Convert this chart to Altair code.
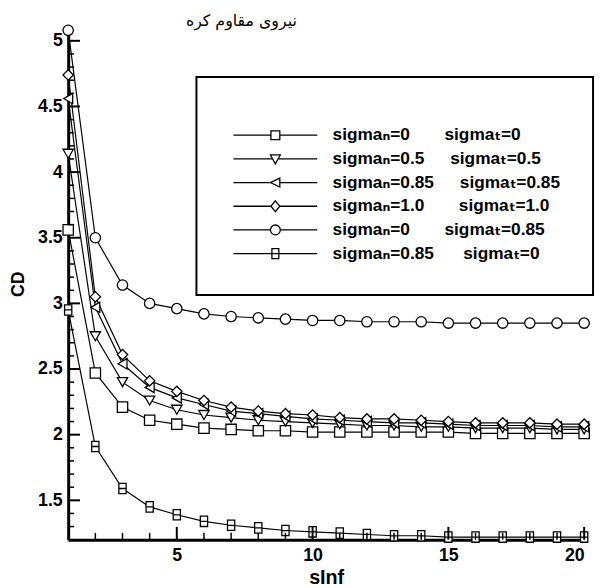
import altair as alt
import pandas as pd

# ---------------- data ----------------
x_values = list(range(1, 21))

EM, EN, TH = "\u2003", "\u2002", "\u2009"
series_labels = [
    "sigmaₙ=0" + EM + EM + "sigmaₜ=0",
    "sigmaₙ=0.5" + EM + EN + "sigmaₜ=0.5",
    "sigmaₙ=0.85" + EM + EN + "sigmaₜ=0.85",
    "sigmaₙ=1.0" + EM + EM + "sigmaₜ=1.0",
    "sigmaₙ=0" + EM + EM + "sigmaₜ=0.85",
    "sigmaₙ=0.85" + EM + EN + TH + "sigmaₜ=0",
]

cd_s00 = [3.56, 2.47, 2.21, 2.11, 2.08, 2.05, 2.04, 2.03, 2.03, 2.02,
          2.02, 2.02, 2.02, 2.02, 2.02, 2.01, 2.01, 2.01, 2.01, 2.01]
cd_s05 = [4.14, 2.75, 2.40, 2.26, 2.19, 2.15, 2.13, 2.11, 2.10, 2.09,
          2.08, 2.07, 2.07, 2.06, 2.06, 2.05, 2.05, 2.05, 2.04, 2.04]
cd_s085 = [4.56, 2.97, 2.54, 2.36, 2.28, 2.23, 2.18, 2.16, 2.14, 2.12,
           2.11, 2.10, 2.09, 2.09, 2.08, 2.07, 2.07, 2.07, 2.06, 2.06]
cd_s10 = [4.74, 3.05, 2.61, 2.41, 2.33, 2.26, 2.21, 2.18, 2.16, 2.15,
          2.13, 2.12, 2.12, 2.11, 2.10, 2.09, 2.09, 2.09, 2.08, 2.08]
cd_n0_t085 = [5.08, 3.50, 3.14, 3.00, 2.96, 2.92, 2.90, 2.89, 2.88, 2.87,
              2.87, 2.86, 2.86, 2.86, 2.85, 2.85, 2.85, 2.85, 2.85, 2.85]
cd_n085_t0 = [2.95, 1.91, 1.59, 1.45, 1.39, 1.34, 1.31, 1.29, 1.27, 1.26,
              1.25, 1.24, 1.23, 1.23, 1.22, 1.22, 1.22, 1.22, 1.22, 1.22]

series_values = [cd_s00, cd_s05, cd_s085, cd_s10, cd_n0_t085, cd_n085_t0]

x_tick_labels = [5, 10, 15, 20]
x_minor_ticks = [i for i in range(2, 20) if i % 5 != 0]
y_tick_labels = [1.5, 2.0, 2.5, 3.0, 3.5, 4.0, 4.5, 5.0]
y_minor_ticks = [round(1.2 + 0.1 * i, 1) for i in range(40)
                 if round((1.2 + 0.1 * i) * 10) % 5 != 0 and 1.2 + 0.1 * i <= 5.1]

title_text = "نیروی مقاوم کره"

# ---------------- tables ----------------
rows = []
for lab, vals in zip(series_labels, series_values):
    for xv, cv in zip(x_values, vals):
        rows.append({"x": xv, "cd": cv, "series": lab})
df = pd.DataFrame(rows)

# ---------------- styling ----------------
FONT = "Liberation Sans, Arial, DejaVu Sans"
W, H = 523, 519

xscale = alt.Scale(domain=[1, 20], nice=False, zero=False)
yscale = alt.Scale(domain=[1.2, 5.1], nice=False, zero=False)

x_enc = alt.X("x:Q", scale=xscale,
              axis=alt.Axis(values=x_tick_labels, title="sInf", titleFontSize=20,
                            titleY=44, titleBaseline="alphabetic", labelPadding=7))
y_enc = alt.Y("cd:Q", scale=yscale,
              axis=alt.Axis(values=y_tick_labels, format="~g", title="CD",
                            titleFontSize=18, titleX=-41, labelPadding=6))

plot_shapes = ["square", "triangle-down", "triangle-left", "diamond", "circle",
               "M-0.7,-1H0.7V1H-0.7ZM-0.7,0H0.7"]

L = "4.25"
legend_shapes = [
    f"M-{L},0H-0.45M0.45,0H{L}M-0.45,-0.45H0.45V0.45H-0.45Z",
    f"M-{L},0H-0.28M0.28,0H{L}M-0.5,-0.4L0.5,-0.4L0,0.5Z",
    f"M-{L},0H-0.5M0.45,0H{L}M-0.5,0L0.45,-0.45L0.45,0.45Z",
    f"M-{L},0H-0.45M0.45,0H{L}M0,-0.55L0.45,0L0,0.55L-0.45,0Z",
    f"M-{L},0H-0.5M0.5,0H{L}M-0.5,0A0.5,0.5 0 1,0 0.5,0A0.5,0.5 0 1,0 -0.5,0Z",
    f"M-{L},0H{L}M-0.35,-0.5H0.35V0.5H-0.35Z",
]

base = alt.Chart(df)

lines = base.mark_line(color="black", strokeWidth=1.2).encode(
    x=x_enc, y=y_enc, detail="series:N")

points = base.mark_point(filled=True, fill="white", stroke="black",
                         strokeWidth=1.3, size=110, opacity=1).encode(
    x=x_enc, y=y_enc,
    shape=alt.Shape("series:N", scale=alt.Scale(domain=series_labels, range=plot_shapes),
                    legend=None))

legend_layer = base.transform_filter("datum.x < 0").mark_point(
    filled=False, color="black", strokeWidth=1.3, opacity=1).encode(
    x=x_enc, y=y_enc,
    shape=alt.Shape("series:N", scale=alt.Scale(domain=series_labels, range=legend_shapes),
                    legend=alt.Legend(
                        orient="none", legendX=130, legendY=50,
                        title=" ", titleFontSize=12, titlePadding=3,
                        padding=33, strokeColor="black",
                        fillColor="white",
                        symbolSize=400, symbolStrokeWidth=1.3,
                        symbolStrokeColor="black",
                        symbolOpacity=1, symbolOffset=36,
                        labelOffset=47, labelFont=FONT, labelFontWeight="bold",
                        labelFontSize=17.5, labelColor="black", labelLimit=0,
                        rowPadding=4)))

ydf_major = pd.DataFrame({"cd": y_tick_labels})
ydf_minor = pd.DataFrame({"cd": y_minor_ticks})
xdf_major = pd.DataFrame({"x": x_tick_labels})
xdf_minor = pd.DataFrame({"x": x_minor_ticks})

ytm = alt.Chart(ydf_major).mark_rule(color="black", strokeWidth=2).encode(
    y=y_enc, x=alt.value(0), x2=alt.value(12))
ytn = alt.Chart(ydf_minor).mark_rule(color="black", strokeWidth=1.5).encode(
    y=y_enc, x=alt.value(0), x2=alt.value(6))
xtm = alt.Chart(xdf_major).mark_rule(color="black", strokeWidth=2).encode(
    x=x_enc, y=alt.value(H), y2=alt.value(H - 13))
xtn = alt.Chart(xdf_minor).mark_rule(color="black", strokeWidth=1.5).encode(
    x=x_enc, y=alt.value(H), y2=alt.value(H - 7))

chart = alt.layer(lines, points, legend_layer, ytm, ytn, xtm, xtn).resolve_scale(
    shape="independent"
).properties(
    width=W, height=H,
    autosize=alt.AutoSizeParams(type="none"),
    padding={"left": 61, "top": 16, "right": 12, "bottom": 46},
    title=alt.Title(title_text, font="DejaVu Sans", fontSize=16, fontWeight="normal",
                    color="black", anchor="middle", dx=-86, baseline="middle", offset=-14),
).configure_axis(
    domainColor="black", domainWidth=3, ticks=False, grid=False,
    labelFont=FONT, labelFontWeight="bold", labelFontSize=18, labelColor="black",
    titleFont=FONT, titleFontWeight="bold", titleColor="black",
).configure_legend(
    strokeWidth=2
).configure_view(stroke=None)

chart.save("out.html", embed_options={"renderer": "svg", "actions": False})
